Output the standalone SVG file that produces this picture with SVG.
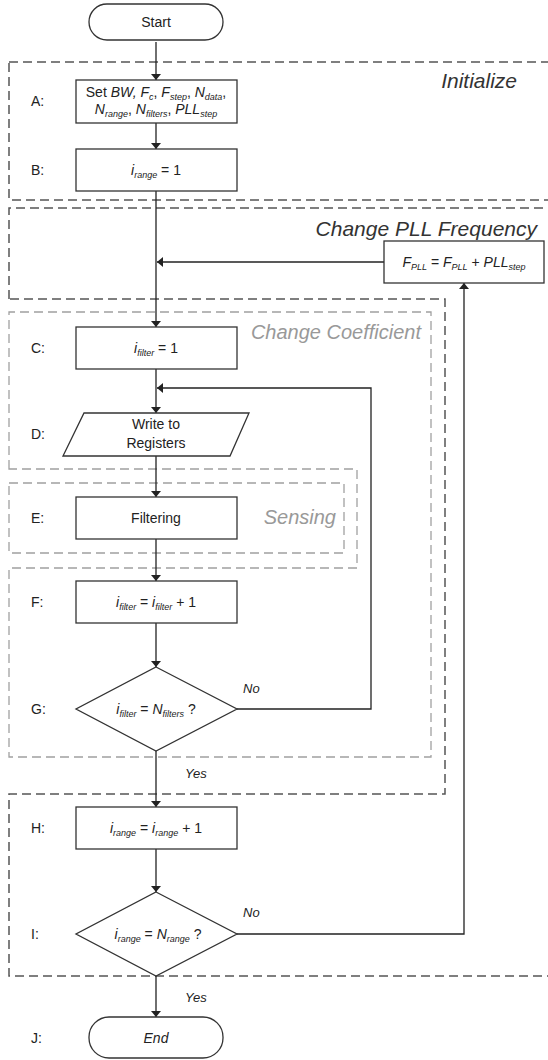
<svg xmlns="http://www.w3.org/2000/svg" width="548" height="1060" viewBox="0 0 548 1060">
<style>
  text { font-family: "Liberation Sans", Arial, sans-serif; fill: #222; }
  .node { fill: #fff; stroke: #333; stroke-width: 1.3; }
  .t { font-size: 14px; text-anchor: middle; }
  .i { font-style: italic; }
  .sub { font-size: 9px; font-style: italic; }
  .lbl { font-size: 14px; }
  .edge { fill: none; stroke: #222; stroke-width: 1.3; }
  .regB { fill: none; stroke: #555; stroke-width: 1.5; stroke-dasharray: 9 5; }
  .regG { fill: none; stroke: #a0a0a0; stroke-width: 1.3; stroke-dasharray: 9 5; }
  .title { font-size: 21px; font-style: italic; text-anchor: end; fill: #333; }
  .gtitle { font-size: 20px; font-style: italic; text-anchor: end; fill: #999; }
  .yn { font-size: 13px; font-style: italic; }
</style>
<defs>
  <marker id="arr" viewBox="0 0 6 10" markerWidth="6" markerHeight="10" refX="6" refY="5" orient="auto" markerUnits="userSpaceOnUse">
    <path d="M0,0 L6,5 L0,10 z" fill="#222"/>
  </marker>
</defs>
<rect width="548" height="1060" fill="#fff"/>

<g id="regions">
  <rect class="regB" x="9" y="62" width="560" height="138"/>
  <text class="title" x="517" y="88">Initialize</text>
  <path class="regB" d="M9,299 L9,208 L560,208 L560,976 L9,976 L9,794 L445,794 L445,299 Z"/>
  <text class="title" x="537" y="236">Change PLL Frequency</text>
  <path class="regG" d="M9,469 L9,312 L431,312 L431,757 L9,757 L9,568 L357,568 L357,469 Z"/>
  <text class="gtitle" x="421" y="339">Change Coefficient</text>
  <rect class="regG" x="9" y="483" width="335" height="70"/>
  <text class="gtitle" x="336" y="524">Sensing</text>
</g>

<g id="connectors">
  <path class="edge" d="M156,42 L156,80" marker-end="url(#arr)"/>
  <path class="edge" d="M156,123 L156,149" marker-end="url(#arr)"/>
  <path class="edge" d="M156,191 L156,327" marker-end="url(#arr)"/>
  <path class="edge" d="M384,262 L157,262" marker-end="url(#arr)"/>
  <path class="edge" d="M156,369 L156,413" marker-end="url(#arr)"/>
  <path class="edge" d="M237,709 L371,709 L371,388 L157,388" marker-end="url(#arr)"/>
  <path class="edge" d="M156,456 L156,497" marker-end="url(#arr)"/>
  <path class="edge" d="M156,539 L156,581" marker-end="url(#arr)"/>
  <path class="edge" d="M156,623 L156,667" marker-end="url(#arr)"/>
  <path class="edge" d="M156,751 L156,807" marker-end="url(#arr)"/>
  <path class="edge" d="M156,849 L156,892" marker-end="url(#arr)"/>
  <path class="edge" d="M237,934 L464,934 L464,283" marker-end="url(#arr)"/>
  <path class="edge" d="M156,976 L156,1017" marker-end="url(#arr)"/>
  <text class="yn" x="243" y="693">No</text>
  <text class="yn" x="185" y="778">Yes</text>
  <text class="yn" x="243" y="917">No</text>
  <text class="yn" x="185" y="1002">Yes</text>
</g>

<g id="start">
  <rect class="node" x="89" y="4" width="134" height="36" rx="18"/>
  <text class="t" x="156" y="27">Start</text>
</g>

<g id="A">
  <text class="lbl" x="31" y="106">A:</text>
  <rect class="node" x="76" y="80" width="161" height="43"/>
  <text class="t" x="156" y="97">Set <tspan class="i">BW, F</tspan><tspan class="sub" dy="3">c</tspan><tspan dy="-3">, </tspan><tspan class="i">F</tspan><tspan class="sub" dy="3">step</tspan><tspan dy="-3">, </tspan><tspan class="i">N</tspan><tspan class="sub" dy="3">data</tspan><tspan dy="-3">,</tspan></text>
  <text class="t" x="156" y="114"><tspan class="i">N</tspan><tspan class="sub" dy="3">range</tspan><tspan dy="-3">, </tspan><tspan class="i">N</tspan><tspan class="sub" dy="3">filters</tspan><tspan dy="-3">, </tspan><tspan class="i">PLL</tspan><tspan class="sub" dy="3">step</tspan></text>
</g>

<g id="B">
  <text class="lbl" x="31" y="175">B:</text>
  <rect class="node" x="76" y="149" width="161" height="42"/>
  <text class="t" x="156" y="175"><tspan class="i">i</tspan><tspan class="sub" dy="3">range</tspan><tspan dy="-3"> = 1</tspan></text>
</g>

<g id="PLL">
  <rect class="node" x="384" y="241" width="160" height="42"/>
  <text class="t" x="464" y="267"><tspan class="i">F</tspan><tspan class="sub" dy="3">PLL</tspan><tspan dy="-3"> = </tspan><tspan class="i">F</tspan><tspan class="sub" dy="3">PLL</tspan><tspan dy="-3"> + </tspan><tspan class="i">PLL</tspan><tspan class="sub" dy="3">step</tspan></text>
</g>

<g id="C">
  <text class="lbl" x="31" y="353">C:</text>
  <rect class="node" x="76" y="327" width="161" height="42"/>
  <text class="t" x="156" y="353"><tspan class="i">i</tspan><tspan class="sub" dy="3">filter</tspan><tspan dy="-3"> = 1</tspan></text>
</g>

<g id="D">
  <text class="lbl" x="31" y="439">D:</text>
  <polygon class="node" points="84,413 249,413 230,456 63,456"/>
  <text class="t" x="156" y="429">Write to</text>
  <text class="t" x="156" y="448">Registers</text>
</g>

<g id="E">
  <text class="lbl" x="31" y="523">E:</text>
  <rect class="node" x="76" y="497" width="161" height="42"/>
  <text class="t" x="156" y="523">Filtering</text>
</g>

<g id="F">
  <text class="lbl" x="31" y="607">F:</text>
  <rect class="node" x="76" y="581" width="161" height="42"/>
  <text class="t" x="156" y="607"><tspan class="i">i</tspan><tspan class="sub" dy="3">filter</tspan><tspan dy="-3"> = </tspan><tspan class="i">i</tspan><tspan class="sub" dy="3">filter</tspan><tspan dy="-3"> + 1</tspan></text>
</g>

<g id="G">
  <text class="lbl" x="31" y="714">G:</text>
  <polygon class="node" points="156,667 237,709 156,751 76,709"/>
  <text class="t" x="156" y="714"><tspan class="i">i</tspan><tspan class="sub" dy="3">filter</tspan><tspan dy="-3"> = </tspan><tspan class="i">N</tspan><tspan class="sub" dy="3">filters</tspan><tspan dy="-3"> ?</tspan></text>
</g>

<g id="H">
  <text class="lbl" x="31" y="833">H:</text>
  <rect class="node" x="76" y="807" width="161" height="42"/>
  <text class="t" x="156" y="833"><tspan class="i">i</tspan><tspan class="sub" dy="3">range</tspan><tspan dy="-3"> = </tspan><tspan class="i">i</tspan><tspan class="sub" dy="3">range</tspan><tspan dy="-3"> + 1</tspan></text>
</g>

<g id="I">
  <text class="lbl" x="31" y="939">I:</text>
  <polygon class="node" points="156,892 237,934 156,976 76,934"/>
  <text class="t" x="158" y="939"><tspan class="i">i</tspan><tspan class="sub" dy="3">range</tspan><tspan dy="-3"> = </tspan><tspan class="i">N</tspan><tspan class="sub" dy="3">range</tspan><tspan dy="-3"> ?</tspan></text>
</g>

<g id="J">
  <text class="lbl" x="31" y="1043">J:</text>
  <rect class="node" x="89" y="1017" width="134" height="41" rx="20"/>
  <text class="t i" x="156" y="1043">End</text>
</g>
</svg>
